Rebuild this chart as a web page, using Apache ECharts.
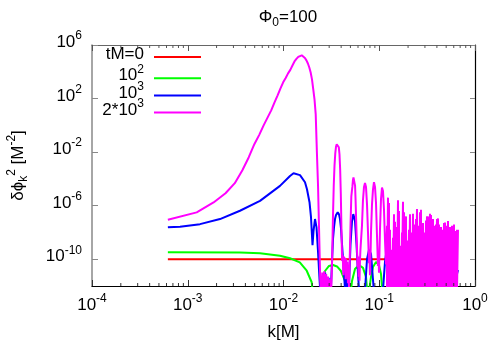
<!DOCTYPE html>
<html>
<head>
<meta charset="utf-8">
<script src="https://cdn.jsdelivr.net/npm/echarts@6.0.0/dist/echarts.min.js"></script>
<style>
  html, body { margin: 0; padding: 0; background: #fff; }
  #chart { width: 500px; height: 357px; }
</style>
</head>
<body>
<div id="chart"></div>
<script>
// k[M] and log10(delta phi_k^2 [M^-2])
var seriesNames = ["tM=0", "10^2", "10^3", "2*10^3"];
var seriesColors = ["#ff0000", "#00ff00", "#0000ff", "#ff00ff"];

var yTickExps = [6, 2, -2, -6, -10];
var xDecades = [1e-4, 1e-3, 1e-2, 1e-1];
var minorMults = [2, 3, 4, 5, 6, 7, 8, 9];

var red = [[0.00062, -10], [0.6644, -10]];

var green = [
  [0.00062, -9.48], [0.00351, -9.5], [0.005685, -9.56], [0.00919, -9.74], [0.0117, -9.93],
  [0.0148, -10.23], [0.01748, -10.86], [0.0197, -11.72], [0.0203, -12.6],
  [0.02405, -13], [0.02525, -11.85], [0.02713, -10.88], [0.02987, -10.5], [0.03289, -10.43],
  [0.03621, -10.54], [0.03986, -10.88], [0.04388, -11.62], [0.04603, -13],
  [0.0495, -13], [0.05194, -11.62], [0.05582, -10.73], [0.06145, -10.43], [0.06765, -10.65],
  [0.0727, -11.32], [0.07628, -13],
  [0.07814, -13], [0.08198, -11.32], [0.08603, -10.58], [0.0925, -10.21], [0.0994, -10.43],
  [0.1043, -11.1], [0.1094, -13]
];

var blue = [
  [0.00062, -7.62], [0.00083, -7.58], [0.001343, -7.38], [0.002172, -7.0], [0.00351, -6.38],
  [0.005685, -5.64], [0.00919, -4.52], [0.01169, -3.78], [0.01273, -3.58], [0.01487, -3.72],
  [0.01677, -4.25], [0.01759, -4.77], [0.01869, -5.74], [0.01937, -6.86], [0.02009, -8.95],
  [0.02057, -7.9], [0.02133, -7.0], [0.02211, -7.6], [0.02292, -9.39], [0.02377, -11.48], [0.02434, -12.6],
  [0.025, -11.3], [0.0262, -12.5], [0.0272, -11.0], [0.0284, -12.4], [0.0296, -11.4], [0.0306, -12.5],
  [0.03134, -12.0], [0.03289, -8.49], [0.03369, -7.6], [0.03451, -7.0], [0.03535, -6.7], [0.03683, -6.5],
  [0.03798, -6.65], [0.03891, -7.0], [0.03986, -7.7], [0.04083, -8.87], [0.04285, -11.1], [0.04388, -12.2],
  [0.0452, -11.0], [0.0465, -12.4], [0.0476, -11.2],
  [0.0483, -12.0], [0.0501, -8.87], [0.05194, -7.15], [0.05358, -6.63], [0.05582, -7.15], [0.05787, -8.87],
  [0.06, -11.1], [0.0615, -12.3],
  [0.071, -12.3], [0.0745, -10.0], [0.0781, -9.3], [0.082, -9.6], [0.086, -11.5], [0.0881, -12.5],
  [0.1094, -12.3], [0.1148, -10.2], [0.119, -9.4], [0.1234, -10.3], [0.128, -12.3],
  [0.1496, -12.3], [0.157, -10.6], [0.1647, -12.3],
  [0.177, -12.3], [0.1857, -10.4], [0.1949, -12.3],
  [0.2252, -12.3], [0.2362, -10.0], [0.2478, -12.3],
  [0.2729, -10.3], [0.3004, -12.3], [0.3308, -10.5], [0.3642, -12.3], [0.4107, -10.4],
  [0.4631, -12.3], [0.5224, -10.6], [0.5891, -12.3], [0.6644, -10.8]
];

var magenta = [
  [0.00062, -7.05], [0.00124, -6.5], [0.00186, -5.76], [0.00248, -5.07], [0.0031, -4.32],
  [0.00372, -3.35], [0.00434, -2.38], [0.00496, -1.41], [0.00558, -0.71], [0.0062, 0.0], [0.00744, 1.12],
  [0.00806, 1.72], [0.00868, 2.24], [0.0093, 2.76], [0.00992, 3.21], [0.01054, 3.54], [0.01116, 3.88],
  [0.01178, 4.14], [0.0124, 4.47], [0.01302, 4.77], [0.01364, 4.96], [0.01426, 5.11], [0.01488, 5.2],
  [0.0155, 5.23], [0.01612, 5.16], [0.01674, 5.03], [0.01736, 4.85], [0.01798, 4.62], [0.0186, 4.32],
  [0.01922, 3.95], [0.01984, 3.43], [0.02046, 2.68], [0.02108, 1.94],
  [0.0217, 0.82], [0.02232, -2.0], [0.02294, -4.5], [0.02356, -8.0], [0.02418, -11.5], [0.0248, -13.0],
  [0.02542, -11.0], [0.02604, -12.5], [0.02666, -10.9], [0.02728, -12.5], [0.0279, -11.1],
  [0.02852, -12.3], [0.02914, -11.3], [0.02976, -12.5], [0.03038, -11.5], [0.031, -12.5],
  [0.03162, -12.0], [0.03224, -9.8], [0.03286, -6.8], [0.03348, -4.5], [0.0341, -3.0],
  [0.03472, -2.1], [0.03534, -1.6], [0.03596, -1.42], [0.03658, -1.38], [0.0372, -1.41],
  [0.03782, -1.64], [0.03844, -2.16], [0.03906, -3.28], [0.03968, -5.14], [0.0403, -7.75], [0.04092, -10.13],
  [0.04154, -9.7], [0.04216, -11.2], [0.04278, -9.8], [0.0434, -10.9], [0.04402, -9.9], [0.04464, -11.5],
  [0.04526, -10.0], [0.04588, -11.0], [0.0465, -10.2], [0.04712, -11.8], [0.04774, -10.4], [0.04836, -12.2],
  [0.04898, -10.6],
  [0.0495, -9.0], [0.0503, -7.0], [0.0511, -5.3], [0.0518, -4.9], [0.0524, -4.6], [0.0531, -4.1],
  [0.0538, -3.9], [0.0545, -3.82], [0.0552, -3.9], [0.0559, -4.5], [0.0566, -5.6], [0.0573, -6.9],
  [0.058, -8.2], [0.0587, -9.4], [0.0594, -10.6],
  [0.0601, -9.8], [0.0608, -11.3], [0.0615, -10.0], [0.0622, -11.6], [0.0629, -10.1], [0.0636, -9.3],
  [0.066, -7.5], [0.0676, -5.6], [0.0693, -4.6], [0.071, -4.3], [0.0727, -4.6], [0.0745, -5.9],
  [0.0763, -8.0], [0.0781, -10.3],
  [0.079, -9.6], [0.08, -11.2], [0.081, -9.9],
  [0.082, -8.0], [0.084, -5.9], [0.086, -4.8], [0.0881, -4.25], [0.0903, -4.6], [0.0925, -5.8],
  [0.0947, -8.2], [0.097, -10.5],
  [0.0982, -9.5], [0.0994, -11.0],
  [0.1018, -7.8], [0.1043, -5.5], [0.1068, -4.65], [0.1094, -4.9], [0.1121, -6.3], [0.1148, -8.6],
  [0.1176, -10.4],
  [0.1205, -7.5], [0.1205, -12.4], [0.1234, -5.4], [0.1234, -11.3], [0.1264, -5.8], [0.1264, -12.4],
  [0.1295, -7.8], [0.1295, -11.3], [0.1327, -10.0], [0.1327, -12.4], [0.1359, -9.3], [0.1359, -11.3],
  [0.1392, -8.4], [0.1392, -12.4], [0.1426, -6.65], [0.1426, -11.3], [0.1461, -7.2], [0.1461, -12.4],
  [0.1496, -9.5], [0.1496, -11.3], [0.1533, -7.6], [0.1533, -12.4], [0.157, -5.6], [0.157, -11.3],
  [0.1608, -6.4], [0.1608, -12.4], [0.1647, -9.0], [0.1647, -11.3], [0.1687, -10.2], [0.1687, -12.4],
  [0.1728, -8.0], [0.1728, -11.3], [0.177, -5.7], [0.177, -12.4], [0.1813, -6.5], [0.1813, -11.3],
  [0.1857, -9.2], [0.1857, -12.4], [0.1903, -6.8], [0.1903, -11.3], [0.1949, -8.6], [0.1949, -12.4],
  [0.1997, -10.0], [0.1997, -11.3], [0.2045, -7.8], [0.2045, -12.4], [0.2095, -6.65], [0.2095, -12.4],
  [0.2146, -8.0], [0.2146, -12.4], [0.2198, -9.5], [0.2198, -12.4], [0.2252, -6.6], [0.2252, -12.4],
  [0.2306, -7.4], [0.2306, -12.4], [0.2362, -9.0], [0.2362, -12.4], [0.2419, -7.0], [0.2419, -12.4],
  [0.2478, -6.25], [0.2478, -12.4], [0.2539, -7.5], [0.2539, -12.4], [0.26, -8.5], [0.26, -12.4],
  [0.2664, -6.5], [0.2664, -12.4], [0.2729, -6.3], [0.2729, -12.4], [0.2795, -8.3], [0.2795, -12.4],
  [0.2863, -7.3], [0.2863, -12.4], [0.2933, -8.5], [0.2933, -12.4], [0.3004, -8.0], [0.3004, -12.4],
  [0.3077, -7.1], [0.3077, -12.4], [0.3152, -6.8], [0.3152, -12.4], [0.3229, -6.8], [0.3229, -12.4],
  [0.3308, -8.2], [0.3308, -12.4], [0.3388, -6.6], [0.3388, -12.4], [0.3471, -6.7], [0.3471, -12.4],
  [0.3555, -7.6], [0.3555, -12.4], [0.3642, -7.0], [0.3642, -12.4], [0.373, -7.5], [0.373, -12.4],
  [0.3821, -8.2], [0.3821, -12.4], [0.3914, -7.4], [0.3914, -12.4], [0.4009, -7.0], [0.4009, -12.4],
  [0.4107, -6.95], [0.4107, -12.4], [0.4207, -7.4], [0.4207, -12.4], [0.4309, -8.3], [0.4309, -12.4],
  [0.4414, -7.6], [0.4414, -12.4], [0.4521, -7.8], [0.4521, -12.4], [0.4631, -8.0], [0.4631, -12.4],
  [0.4745, -7.3], [0.4745, -12.4], [0.486, -7.25], [0.486, -12.4], [0.4978, -7.8], [0.4978, -12.4],
  [0.5099, -7.5], [0.5099, -12.4], [0.5224, -7.15], [0.5224, -12.4], [0.5351, -7.6], [0.5351, -12.4],
  [0.5481, -8.2], [0.5481, -12.4], [0.5615, -7.6], [0.5615, -12.4], [0.5751, -7.5], [0.5751, -12.4],
  [0.5891, -8.0], [0.5891, -12.4], [0.6035, -7.4], [0.6035, -12.4], [0.6182, -7.9], [0.6182, -12.4],
  [0.6332, -8.3], [0.6332, -12.4], [0.6487, -7.8], [0.6487, -12.4], [0.6644, -7.8]
];

var seriesData = [red, green, blue, magenta];

var FONT = '"Liberation Sans", Arial, Helvetica, sans-serif';
var rich = {
  b: { fontFamily: FONT, fontSize: 17, fontWeight: "normal", color: "#000", lineHeight: 18, padding: [0, 0, 3, 0], verticalAlign: "bottom" },
  s: { fontFamily: FONT, fontSize: 12, fontWeight: "normal", color: "#000", lineHeight: 12, padding: [0, 0, 12, 0], verticalAlign: "bottom" },
  u: { fontFamily: FONT, fontSize: 12, fontWeight: "normal", color: "#000", lineHeight: 12, verticalAlign: "bottom" }
};

// "2*10^3" -> rich text with superscript
function toRich(name) {
  var parts = name.split("^");
  var out = "{b|" + parts[0] + "}";
  if (parts.length > 1) out += "{s|" + parts[1] + "}";
  return out;
}

var minorTicks = [];
xDecades.forEach(function (d) {
  minorMults.forEach(function (m) {
    minorTicks.push([d * m, 0]);
  });
});

var chart = echarts.init(document.getElementById("chart"), null, { renderer: "canvas" });

var series = seriesNames.map(function (name, i) {
  return {
    name: name,
    type: "line",
    xAxisIndex: 0,
    yAxisIndex: 0,
    data: seriesData[i],
    showSymbol: false,
    symbol: "none",
    color: seriesColors[i],
    lineStyle: { color: seriesColors[i], width: 2 },
    z: 2 + i * 0.1,
    silent: true
  };
});

// minor ticks of the log x axis, bottom and top, inward
series.push({
  name: "minorTicks",
  type: "custom",
  xAxisIndex: 0,
  yAxisIndex: 0,
  data: minorTicks,
  silent: true,
  z: 5,
  renderItem: function (params, api) {
    var x = api.coord([api.value(0), api.value(1)])[0];
    var cs = params.coordSys;
    return {
      type: "group",
      children: [
        { type: "line", shape: { x1: x, y1: cs.y + cs.height, x2: x, y2: cs.y + cs.height - 3 }, style: { stroke: "#333", lineWidth: 1 } },
        { type: "line", shape: { x1: x, y1: cs.y, x2: x, y2: cs.y + 3 }, style: { stroke: "#555", lineWidth: 1 } }
      ]
    };
  }
});

var legends = seriesNames.map(function (name, i) {
  return {
    data: [name],
    right: 299,
    top: 46 + i * 17.2,
    orient: "vertical",
    align: "right",
    icon: "rect",
    itemWidth: 47,
    itemHeight: 2,
    padding: 0,
    selectedMode: false,
    formatter: toRich,
    textStyle: { rich: rich, padding: [0, 5, 0, 0] }
  };
});

chart.setOption({
  animation: false,
  backgroundColor: "#fff",
  title: {
    text: "{b|\u03A6}{u|0}{b|=100}",
    left: 283,
    top: 6,
    textAlign: "center",
    textStyle: { rich: rich, fontWeight: "normal" }
  },
  legend: legends,
  grid: { left: 92, right: 25, top: 45, bottom: 71, containLabel: false, outerBoundsMode: "none" },
  xAxis: [
    {
      type: "log",
      min: 1e-4,
      max: 1,
      position: "bottom",
      name: "{b|k[M]}",
      nameLocation: "middle",
      nameGap: 40,
      nameTextStyle: { rich: rich },
      axisLine: { onZero: false, lineStyle: { color: "#000", width: 1.2 } },
      axisTick: { inside: true, length: 6, lineStyle: { color: "#333" } },
      axisLabel: {
        margin: 13,
        formatter: function (v) {
          return "{b|10}{s|" + Math.round(Math.log10(v)) + "}";
        },
        rich: rich
      },
      splitLine: { show: false }
    },
    {
      type: "log",
      min: 1e-4,
      max: 1,
      position: "top",
      axisLine: { onZero: false, lineStyle: { color: "#666", width: 1.2 } },
      axisTick: { inside: true, length: 6, lineStyle: { color: "#555" } },
      axisLabel: { show: false },
      splitLine: { show: false }
    }
  ],
  yAxis: [
    {
      type: "value",
      min: -12,
      max: 6,
      interval: 2,
      position: "left",
      name: "{b|\u03B4\u03D5}{u|k}{s|2}{b| [M}{s|-2}{b|]}",
      nameLocation: "middle",
      nameRotate: 90,
      nameGap: 62,
      nameTextStyle: { rich: rich },
      axisLine: { onZero: false, lineStyle: { color: "#888", width: 1.5 } },
      axisTick: { inside: true, length: 6, customValues: yTickExps, lineStyle: { color: "#888" } },
      axisLabel: {
        margin: 10,
        customValues: yTickExps,
        formatter: function (v) {
          return "{b|10}{s|" + v + "}";
        },
        rich: rich
      },
      splitLine: { show: false }
    },
    {
      type: "value",
      min: -12,
      max: 6,
      interval: 2,
      position: "right",
      axisLine: { onZero: false, lineStyle: { color: "#000", width: 1.2 } },
      axisTick: { inside: true, length: 5, customValues: yTickExps, lineStyle: { color: "#888" } },
      axisLabel: { show: false },
      splitLine: { show: false }
    }
  ],
  series: series
});
</script>
</body>
</html>
